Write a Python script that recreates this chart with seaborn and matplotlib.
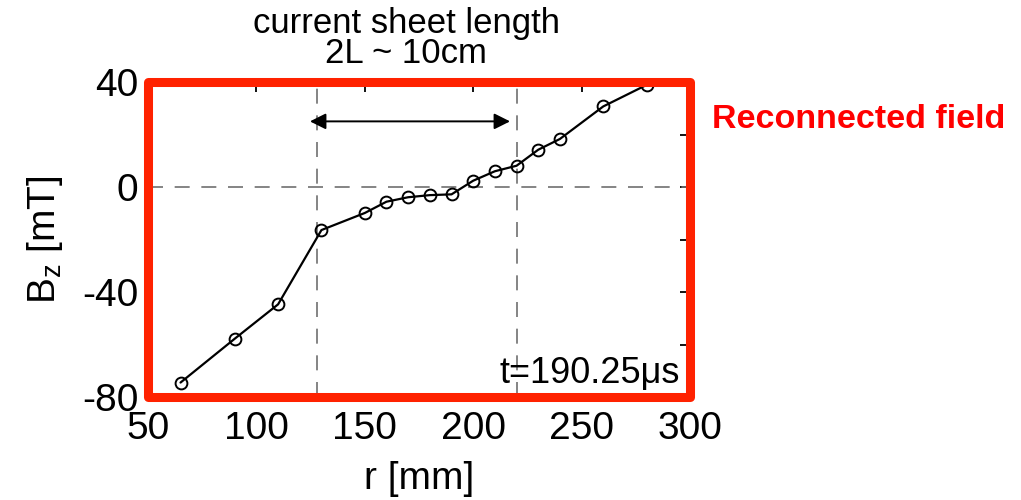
import matplotlib
matplotlib.use("Agg")
import matplotlib.pyplot as plt
from matplotlib import font_manager
from matplotlib.patches import Rectangle
import seaborn as sns
import pandas as pd

# ---- data ----
r_mm = [65, 90, 110, 130, 150, 160, 170, 180, 190, 200, 210, 220, 230, 240, 260, 280]
bz_mT = [-74.5, -57.8, -44.7, -16.4, -9.9, -5.6, -3.9, -3.1, -2.8, 2.4, 6.0, 8.1, 14.2, 18.3, 30.7, 38.9]
sheet_edges = [128, 220]
arrow_span = [124.7, 217]
arrow_level = 25
x_ticks = [50, 100, 150, 200, 250, 300]
y_major = [-80, -40, 0, 40]
y_minor = [-60, -20, 20]
title_lines = ["current sheet length", "2L ~ 10cm"]
time_label = "t=190.25\u03bcs"
side_label = "Reconnected field"

sns.set_theme(style="white")
plt.rcParams["font.family"] = ["Liberation Sans", "DejaVu Sans"]
plt.rcParams["mathtext.fontset"] = "custom"
plt.rcParams["mathtext.rm"] = "Liberation Sans"
plt.rcParams["mathtext.it"] = "Liberation Sans"
plt.rcParams["text.color"] = "black"
plt.rcParams["axes.labelcolor"] = "black"
plt.rcParams["xtick.color"] = "black"
plt.rcParams["ytick.color"] = "black"

names = {f.name for f in font_manager.fontManager.ttflist}
if "Liberation Sans Narrow" in names:
    side_family, side_size = ["Liberation Sans Narrow", "Liberation Sans"], 30
else:
    side_family, side_size = ["Liberation Sans", "DejaVu Sans"], 24.5

W, H = 1021, 500
fig = plt.figure(figsize=(W / 100, H / 100), dpi=100)
L, R, T, B = 148, 690, 82, 397
ax = fig.add_axes([L / W, 1 - B / H, (R - L) / W, (B - T) / H])

df = pd.DataFrame({"r": r_mm, "Bz": bz_mT})

dash = (0, (9, 7))
ax.axhline(0, color="#707070", lw=1.2, ls=dash, zorder=1)
for xe in sheet_edges:
    ax.axvline(xe, color="#707070", lw=1.2, ls=dash, zorder=1)

sns.lineplot(data=df, x="r", y="Bz", ax=ax, color="black", lw=1.6,
             marker="o", markersize=8.5, markerfacecolor="none",
             markeredgecolor="black", markeredgewidth=1.4, zorder=3)

ax.annotate("", xy=(arrow_span[0], arrow_level), xytext=(arrow_span[1], arrow_level),
            arrowprops=dict(arrowstyle="<|-|>", color="black", lw=1.4,
                            mutation_scale=24, shrinkA=0, shrinkB=0))

ax.set_xlim(50, 300)
ax.set_ylim(-80, 40)
ax.set_xticks(x_ticks)
ax.set_xticklabels([str(v) for v in x_ticks])
ax.set_yticks(y_major)
ax.set_yticklabels([str(v) for v in y_major])
ax.set_yticks(y_minor, minor=True)

ax.tick_params(axis="both", which="both", direction="in", top=True, right=True,
               length=7, width=1.3, color="black")
ax.tick_params(axis="x", which="major", labelsize=28, pad=10)
ax.tick_params(axis="y", which="major", labelsize=28, pad=7)

ax.set_xlabel("r [mm]", fontsize=28, labelpad=10)
ax.set_ylabel(r"B$_\mathregular{z}$ [mT]", fontsize=28, labelpad=12)

for s in ax.spines.values():
    s.set_visible(False)
ax.add_patch(Rectangle((0, 0), 1, 1, transform=ax.transAxes, fill=False,
                       edgecolor="#ff2200", lw=6.5, joinstyle="round",
                       clip_on=False, zorder=5))

ax.text(0.982, 0.045, time_label, transform=ax.transAxes, ha="right",
        va="baseline", fontsize=26, color="black")

fig.text(406 / W, 1 - 33 / H, title_lines[0], ha="center", va="baseline", fontsize=25)
fig.text(406 / W, 1 - 63 / H, title_lines[1], ha="center", va="baseline", fontsize=25)

fig.text(712 / W, 1 - 128 / H, side_label, ha="left", va="baseline",
         fontsize=side_size, fontweight="bold", color="#ff0000", family=side_family)

fig.savefig("out.png", dpi=100)
